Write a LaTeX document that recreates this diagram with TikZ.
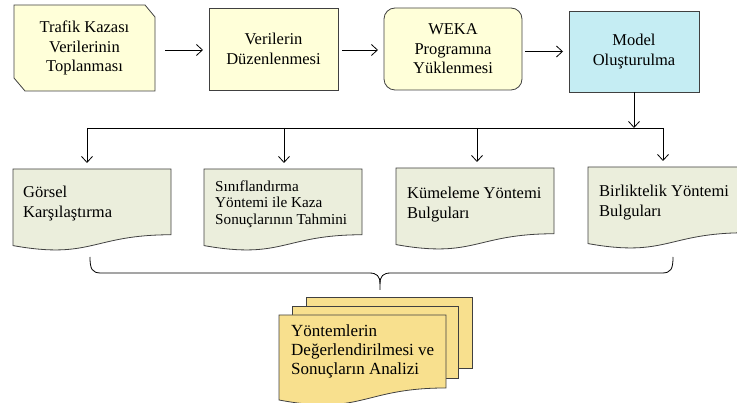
\documentclass[tikz,border=0pt]{standalone}
\usepackage{fontspec}
\setmainfont{Liberation Serif}
\usetikzlibrary{arrows.meta,calc,backgrounds}
\definecolor{boxyellow}{HTML}{FFFFD9}
\definecolor{boxcyan}{HTML}{C5EDF3}
\definecolor{docgreen}{HTML}{EBEEDC}
\definecolor{docgold}{HTML}{F8E08E}
\definecolor{edgegray}{HTML}{404040}
\newcommand\docpath[2]{%
  \draw[shapeline, fill=#2] (#1.north west) -- (#1.north east)
    -- ($(#1.north east)!0.802!(#1.south east)$)
    .. controls ($(#1.north)!0.802!(#1.south)$) and ($(#1.north)!1.107!(#1.south)$)
    .. ($(#1.north west)!0.934!(#1.south west)$) -- cycle;}
\begin{document}
\begin{tikzpicture}[x=1pt,y=-1pt,
  shapeline/.style={draw=edgegray, line width=0.8pt},
  frame/.style={inner sep=0pt, outer sep=0pt},
  toptext/.style={font=\fontsize{16.5}{19.5}\selectfont, align=center},
  doctext/.style={inner sep=0pt, anchor=north west, align=left, font=\fontsize{16.5}{19.8}\selectfont},
  conn/.style={draw=black, line width=0.8pt},
  arr/.style={conn, -{Straight Barb[length=6pt,width=11pt]}}]
\useasboundingbox (0,0) rectangle (737,403);

% top row
\node[frame, toptext, minimum width=141pt, minimum height=86pt] (b1) at (84.5,48) {Trafik Kazası\\Verilerinin\\Toplanması};
\begin{scope}[on background layer]
\draw[shapeline, fill=boxyellow] (b1.north west) -- ($(b1.north east)+(-10,0)$) -- ($(b1.north east)+(0,12)$)
  -- (b1.south east) -- ($(b1.south west)+(11,0)$) -- ($(b1.south west)+(0,-13)$) -- cycle;
\end{scope}
\node[frame, toptext, shapeline, fill=boxyellow, minimum width=129pt, minimum height=82pt] (b2) at (273.5,49) {Verilerin\\Düzenlenmesi};
\node[frame, toptext, shapeline, fill=boxyellow, rounded corners=11pt, minimum width=138pt, minimum height=82pt] (b3) at (453,49) {WEKA\\Programına\\Yüklenmesi};
\node[frame, toptext, shapeline, fill=boxcyan, minimum width=130pt, minimum height=81pt] (b4) at (634,51.5) {Model\\Oluşturulma};

\draw[arr] ($(b1.east |- b2.west)+(10,1)$) -- ($(b2.west)+(-6,1)$);
\draw[arr] ($(b2.east)+(4,1)$) -- ($(b3.west)+(-6,1)$);
\draw[arr] ($(b3.east |- b4.west)+(3,0)$) -- ($(b4.west)+(-6,0)$);

% documents row
\node[frame, minimum width=158pt, minimum height=82pt] (d1) at (92,210) {};
\node[frame, minimum width=158pt, minimum height=82pt] (d2) at (283,210) {};
\node[frame, minimum width=158pt, minimum height=82pt] (d3) at (475,209) {};
\node[frame, minimum width=158pt, minimum height=82pt] (d4) at (667,208) {};
\docpath{d1}{docgreen}
\docpath{d2}{docgreen}
\docpath{d3}{docgreen}
\docpath{d4}{docgreen}
\node[doctext] (d1t) at (23,185.6) {Görsel\\Karşılaştırma};
\node[doctext, font=\fontsize{15.2}{16.7}\selectfont] (d2t) at (215,180.2) {Sınıflandırma\\Yöntemi ile Kaza\\Sonuçlarının Tahmini};
\node[doctext] (d3t) at (407,186.6) {Kümeleme Yöntemi\\Bulguları};
\node[doctext] (d4t) at (599,184.6) {Birliktelik Yöntemi\\Bulguları};

% bus
\coordinate (bus) at (0,128);
\draw[arr] (b4.south) -- (b4.south |- bus);
\draw[conn] ($(d1.north |- bus)+(-5,0)$) -- ($(d4.north |- bus)+(-4,0)$);
\draw[arr] ($(d1.north |- bus)+(-5,0)$) -- ($(d1.north)+(-5,-6)$);
\draw[arr] ($(d2.north |- bus)+(1,0)$) -- ($(d2.north)+(1,-6)$);
\draw[arr] ($(d3.north |- bus)+(2,0)$) -- ($(d3.north)+(2,-6)$);
\draw[arr] ($(d4.north |- bus)+(-4,0)$) -- ($(d4.north)+(-4,-6)$);

% brace
\coordinate (brL) at (90,257);
\coordinate (brR) at (673,257);
\coordinate (brTip) at (380,290);
\draw[conn] (brL) .. controls (90,269) and (92,273) .. (101,273) -- (369,273)
  .. controls (377,273) and (380,276) .. (380,284) -- (brTip);
\draw[conn] (brR) .. controls (673,269) and (671,273) .. (662,273) -- (391,273)
  .. controls (383,273) and (380,276) .. (380,284);

% multi-document
\node[frame, minimum width=166pt, minimum height=71pt] (m1) at (389,332.5) {};
\node[frame, minimum width=166pt, minimum height=72pt] (m2) at (375,342) {};
\node[frame, minimum width=167pt, minimum height=91pt] (m3) at (362.5,360.5) {};
\draw[shapeline, fill=docgold] (m1.north west) rectangle (m1.south east);
\draw[shapeline, fill=docgold] (m2.north west) rectangle (m2.south east);
\docpath{m3}{docgold}
\node[doctext, font=\fontsize{17}{18.8}\selectfont] (m3t) at (291,325) {Yöntemlerin\\Değerlendirilmesi ve\\Sonuçların Analizi};
\end{tikzpicture}
\end{document}
